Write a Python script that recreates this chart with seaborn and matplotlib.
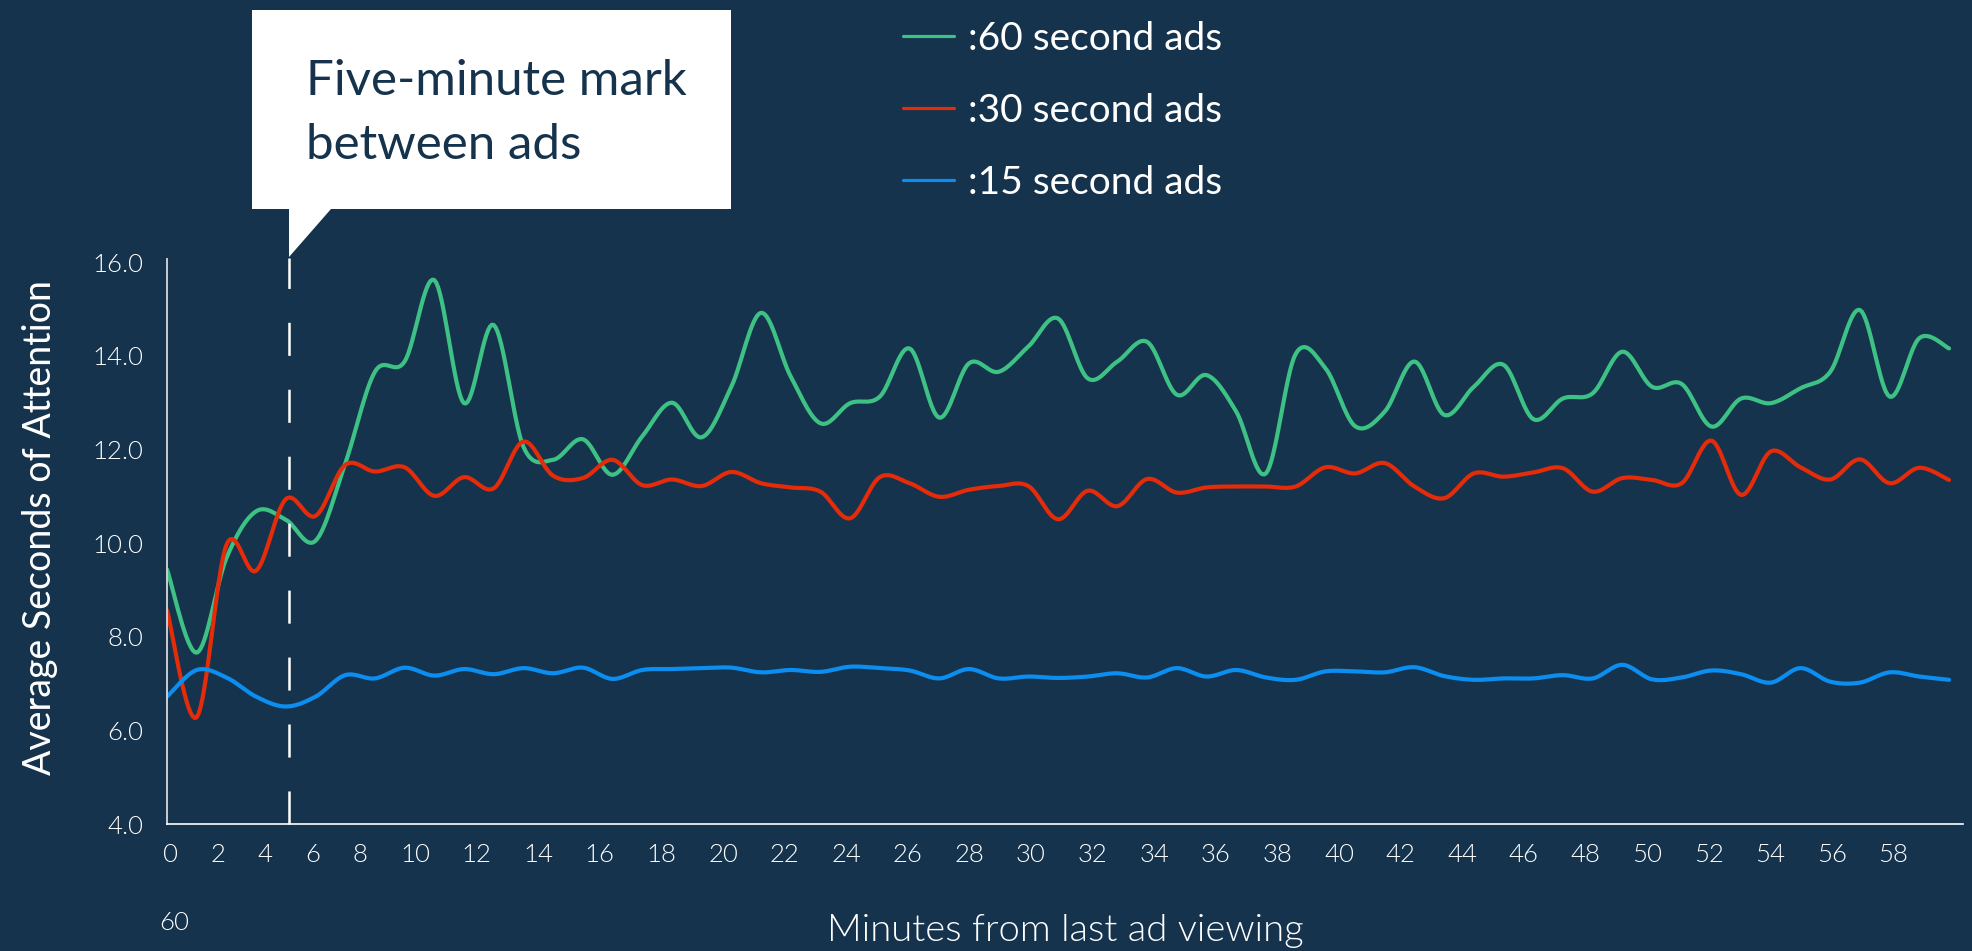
import numpy as np
import pandas as pd
import seaborn as sns
import matplotlib.pyplot as plt
from matplotlib.patches import Polygon

# ---- data: average seconds of attention by minute since the last ad ----
minutes = list(range(0, 61))

ads_60 = [9.44, 7.66, 9.68, 10.68, 10.50, 10.05, 11.70, 13.66, 13.88, 15.62,
          12.99, 14.66, 12.06, 11.78, 12.22, 11.46, 12.28, 13.00, 12.26, 13.34,
          14.92, 13.56, 12.56, 12.99, 13.13, 14.16, 12.68, 13.84, 13.66, 14.20,
          14.80, 13.52, 13.88, 14.30, 13.17, 13.59, 12.81, 11.49, 14.04, 13.74,
          12.50, 12.81, 13.88, 12.74, 13.34, 13.81, 12.65, 13.09, 13.20, 14.09,
          13.34, 13.40, 12.49, 13.09, 12.99, 13.31, 13.66, 14.98, 13.13, 14.38,
          14.16]

ads_30 = [8.57, 6.28, 9.96, 9.41, 10.94, 10.58, 11.67, 11.53, 11.62, 11.01,
          11.41, 11.17, 12.17, 11.44, 11.39, 11.78, 11.24, 11.36, 11.22, 11.52,
          11.28, 11.19, 11.10, 10.53, 11.41, 11.28, 10.99, 11.14, 11.22, 11.22,
          10.51, 11.12, 10.79, 11.37, 11.08, 11.19, 11.21, 11.21, 11.21, 11.62,
          11.49, 11.71, 11.21, 10.96, 11.49, 11.42, 11.51, 11.60, 11.10, 11.39,
          11.35, 11.28, 12.19, 11.03, 11.96, 11.62, 11.36, 11.79, 11.28, 11.61,
          11.35]

ads_15 = [6.72, 7.29, 7.13, 6.72, 6.51, 6.72, 7.18, 7.11, 7.34, 7.17,
          7.31, 7.20, 7.33, 7.22, 7.34, 7.10, 7.29, 7.31, 7.33, 7.34,
          7.24, 7.29, 7.25, 7.36, 7.33, 7.28, 7.11, 7.31, 7.11, 7.15,
          7.12, 7.15, 7.22, 7.13, 7.33, 7.15, 7.29, 7.13, 7.08, 7.26,
          7.26, 7.24, 7.35, 7.16, 7.08, 7.11, 7.11, 7.18, 7.11, 7.40,
          7.09, 7.13, 7.28, 7.20, 7.02, 7.33, 7.04, 7.02, 7.24, 7.15,
          7.08]

series_names = [":60 second ads", ":30 second ads", ":15 second ads"]
series_colors = ["#3DC184", "#E42B0A", "#0C8DF0"]

x_tick_labels = [str(v) for v in range(0, 60, 2)]
y_ticks = [4, 6, 8, 10, 12, 14, 16]

callout_lines = ["Five-minute mark", "between ads"]
x_title = "Minutes from last ad viewing"
y_title = "Average Seconds of Attention"

# ---- styling ----
BG = "#15334C"
W, H, DPI = 1972, 951, 100

sns.set_theme(style="white")
plt.rcParams["font.family"] = ["Lato", "DejaVu Sans"]
plt.rcParams["lines.scale_dashes"] = False


def smooth(x, y, n=16):
    """Catmull-Rom curve through every (x, y) point, for a soft line."""
    x = np.asarray(x, float)
    y = np.asarray(y, float)
    xp = np.r_[x[0], x, x[-1]]
    yp = np.r_[y[0], y, y[-1]]
    t = np.linspace(0, 1, n, endpoint=False)[:, None]

    def seg(p):
        p0, p1, p2, p3 = p[:-3], p[1:-2], p[2:-1], p[3:]
        return 0.5 * (2 * p1 + (-p0 + p2) * t
                      + (2 * p0 - 5 * p1 + 4 * p2 - p3) * t ** 2
                      + (-p0 + 3 * p1 - 3 * p2 + p3) * t ** 3)

    xs = np.r_[seg(xp).T.ravel(), x[-1]]
    ys = np.r_[seg(yp).T.ravel(), y[-1]]
    return xs, ys


frames = []
for name, vals in zip(series_names, [ads_60, ads_30, ads_15]):
    xs, ys = smooth(minutes, vals)
    frames.append(pd.DataFrame({"minute": xs, "seconds": ys, "series": name}))
df = pd.concat(frames, ignore_index=True)

fig = plt.figure(figsize=(W / DPI, H / DPI), dpi=DPI, facecolor=BG)

# axes box in pixels: left 167, right 1963, top 259, bottom 824
ax_l, ax_r, ax_t, ax_b = 167, 1963, 259, 824
ax = fig.add_axes([ax_l / W, 1 - ax_b / H, (ax_r - ax_l) / W, (ax_b - ax_t) / H])
ax.set_facecolor(BG)

x_max = 60.47
ax.set_xlim(0, x_max)
ax.set_ylim(4, 16.07)

sns.lineplot(data=df, x="minute", y="seconds", hue="series",
             hue_order=series_names, palette=series_colors,
             estimator=None, sort=False, linewidth=3.0, ax=ax)

# spines
for side in ("top", "right"):
    ax.spines[side].set_visible(False)
ax.spines["left"].set_color("#C9CED4")
ax.spines["left"].set_linewidth(1.4)
ax.spines["bottom"].set_color("#FFFFFF")
ax.spines["bottom"].set_linewidth(1.2)

TICK_FS = 18.5
TICK_WEIGHT = 300

# y axis ticks
ax.set_yticks(y_ticks, [f"{v:.1f}" for v in y_ticks])
ax.tick_params(axis="y", length=0, pad=17, labelsize=TICK_FS, labelcolor="white")

# x tick labels are set as one spaced run of numbers
px_per_min = (ax_r - ax_l) / x_max
digit_w, gap, first = 14.0, 33.6, 3.0
centers = []
pos = first
prev = None
for lab in x_tick_labels:
    w = len(lab) * digit_w
    if prev is not None:
        pos += prev / 2 + gap + w / 2
    centers.append(pos)
    prev = w
x_tick_pos = [c / px_per_min for c in centers]
ax.set_xticks(x_tick_pos, x_tick_labels)
ax.tick_params(axis="x", length=0, pad=14, labelsize=TICK_FS, labelcolor="white")
for lab in ax.get_xticklabels() + ax.get_yticklabels():
    lab.set_fontweight(TICK_WEIGHT)

# wrapped last number of the run
ax.text((first - 11) / px_per_min, -0.175, "60",
        transform=ax.get_xaxis_transform(), ha="left", va="center",
        fontsize=TICK_FS, color="white", fontweight=TICK_WEIGHT)

# axis titles
ax.set_xlabel(x_title, fontsize=27.5, color="white", fontweight=TICK_WEIGHT)
ax.xaxis.set_label_coords(0.5, -0.19)
ax.xaxis.label.set_verticalalignment("center")
ax.set_ylabel(y_title, fontsize=27, color="white")
ax.yaxis.set_label_coords(-0.0707, 0.524)
ax.yaxis.label.set_verticalalignment("center")

# five-minute marker
mark_x = (x_tick_pos[2] + x_tick_pos[3]) / 2
ax.plot([mark_x, mark_x], [4, 16.1], color="white", lw=1.8,
        dashes=(23.8, 24.4), clip_on=False, zorder=5)

# legend
sns.move_legend(ax, "upper left", bbox_to_anchor=(903 / W, 1 - 21 / H),
                bbox_transform=fig.transFigure, title=None, frameon=False,
                fontsize=28, handlelength=1.31, handletextpad=0.36,
                labelspacing=0.92, borderpad=0, borderaxespad=0)
leg = ax.get_legend()
for txt in leg.get_texts():
    txt.set_color("white")
for ln in leg.get_lines():
    ln.set_linewidth(2.3)

# callout box with pointer
tip_px = ax_l + mark_x * px_per_min
box = [(252, 10), (731, 10), (731, 209), (tip_px + 42, 209),
       (tip_px, 257), (tip_px, 209), (252, 209)]
fig.patches.append(Polygon([(x / W, 1 - y / H) for x, y in box], closed=True,
                           transform=fig.transFigure, facecolor="white",
                           edgecolor="none"))
for line, base in zip(callout_lines, [95, 159]):
    fig.text(306 / W, 1 - base / H, line, fontsize=35.5, color="#15334C",
             ha="left", va="baseline")

fig.savefig("out.png", dpi=DPI, facecolor=BG)
